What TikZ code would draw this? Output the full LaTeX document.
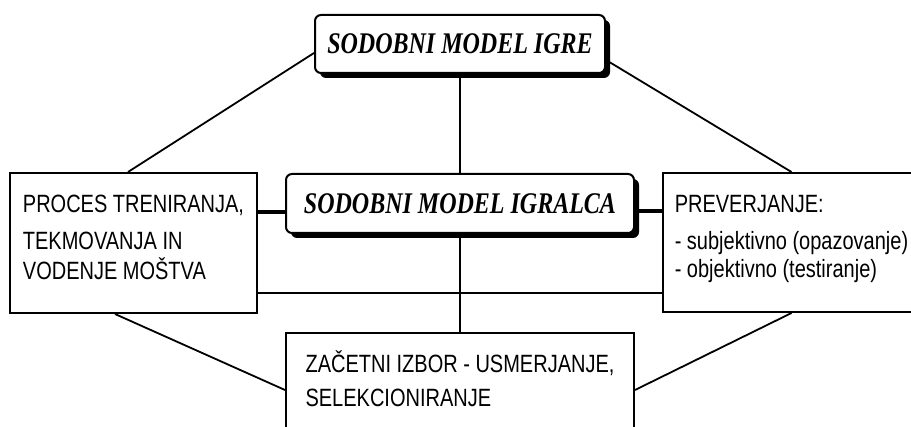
\documentclass[tikz,border=0pt]{standalone}
\usepackage{fontspec}
\usetikzlibrary{shadows}
\newfontfamily\titlefont{Liberation Serif}[FakeStretch=0.8]
\newfontfamily\boxfont{Liberation Sans}[FakeStretch=0.8]

\tikzset{
  model/.style={draw, line width=2pt, fill=white, rounded corners=6pt, inner sep=0pt,
    drop shadow={shadow xshift=5pt, shadow yshift=-5pt, fill=black, opacity=1},
    font=\titlefont\bfseries\itshape\fontsize{30}{36}\selectfont},
  area/.style={draw, line width=2pt, fill=white, align=left, inner sep=0pt,
    font=\boxfont\fontsize{25}{30}\selectfont},
  link/.style={line width=1.8pt},
  joint/.style={line width=4pt}
}

\begin{document}
\begin{tikzpicture}[x=1pt, y=-1pt]
\clip (0,0) rectangle (911,427);
\fill[white] (0,0) rectangle (911,427);

\node[model, minimum width=290pt, minimum height=58pt] (igra) at (460,44) {SODOBNI MODEL IGRE};
\node[model, minimum width=348pt, minimum height=59pt] (igralec) at (460,203.5) {SODOBNI MODEL IGRALCA};
\node[area, minimum width=247pt, minimum height=140pt, text depth=11pt] (trening) at (133.5,243)
  {PROCES TRENIRANJA,\\[7pt] TEKMOVANJA IN\\ VODENJE MOŠTVA};
\node[area, minimum width=257pt, minimum height=139pt, text depth=12pt] (preverjanje) at (791.5,242.5)
  {PREVERJANJE:\\[7pt] - subjektivno (opazovanje)\\[-2pt] - objektivno (testiranje)};
\node[area, minimum width=348pt, anchor=north, inner ysep=18pt, text depth=60pt] (izbor) at (460,332)
  {ZAČETNI IZBOR - USMERJANJE,\\[4pt] SELEKCIONIRANJE};

\draw[link] (igra.south) -- (igralec.north);
\draw[link] (igralec.south) -- (izbor.north);
\draw[link] ([yshift=-9pt]igra.west) -- ([xshift=-5.5pt]trening.north);
\draw[link] ([yshift=-16pt]igra.east) -- (preverjanje.north);
\draw[link] ([xshift=-18.5pt]trening.south) -- ([yshift=-58pt]izbor.north west);
\draw[link] (preverjanje.south) -- ([yshift=-58pt]izbor.north east);
\draw[link] ([yshift=-50pt]trening.east) -- ([yshift=-50pt]trening.east -| preverjanje.west);
\draw[joint] ([yshift=31pt]trening.east) -- ([yshift=31pt]trening.east -| igralec.west);
\draw[joint] ([yshift=31pt]preverjanje.west) -- ([yshift=31pt]preverjanje.west -| igralec.east);
\end{tikzpicture}
\end{document}
